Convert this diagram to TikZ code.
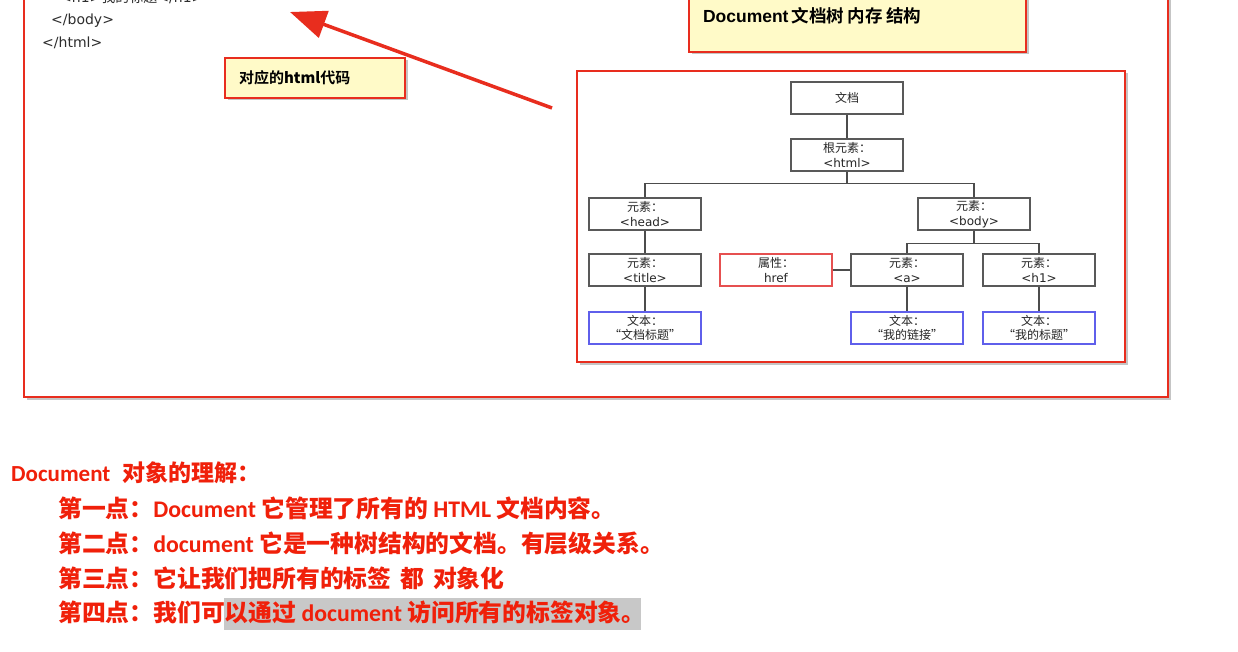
\documentclass[tikz,border=0pt]{standalone}
\usepackage{fontspec}
\setmainfont{DejaVu Sans}
\newfontfamily\cjk{Noto Sans CJK SC}
\newfontfamily\cjkb{Noto Sans CJK SC Bold}
\newfontfamily\calf{Carlito}
\newfontfamily\arf{Liberation Sans}
\usetikzlibrary{arrows.meta,shadows}
\definecolor{rd}{RGB}{232,45,30}
\definecolor{txtred}{RGB}{240,32,10}
\definecolor{yel}{RGB}{255,250,200}
\definecolor{blu}{RGB}{95,95,235}
\definecolor{hrefred}{RGB}{230,80,80}
\definecolor{hl}{RGB}{200,200,200}
\definecolor{codegray}{RGB}{45,45,45}
\newcommand\Ch[1]{{\cjkb #1}}
\tikzset{
  shd/.style={drop shadow={shadow xshift=2.5pt,shadow yshift=-2.5pt,fill=black!45,opacity=0.5}},
  redbox/.style={draw=rd,line width=2pt,fill=white,shd},
  ybox/.style={draw=rd,line width=2pt,fill=yel,shd,align=left,inner xsep=14pt,inner ysep=0pt},
  tbox/.style={draw=black!65,line width=1.1pt,fill=white,minimum width=112pt,minimum height=32pt,
    inner sep=0pt,align=center,text=black!85,font=\fontsize{12}{14.5}\selectfont},
  bbox/.style={tbox,draw=blu},
  abox/.style={tbox,draw=hrefred},
  conn/.style={draw=black!70,line width=1.1pt},
  codetxt/.style={anchor=west,inner sep=0pt,text=codegray,font=\fontsize{14}{16}\selectfont},
  pointtxt/.style={anchor=base west,inner sep=0pt,text=txtred,font=\fontsize{23.8}{26}\calf\bfseries},
}
\begin{document}
\begin{tikzpicture}[x=1pt,y=-1pt]
\useasboundingbox (0,0) rectangle (1238,652);
\fill[white] (0,0) rectangle (1238,652);
\clip (0,0) rectangle (1238,652);

% outer frame
\draw[redbox] (24,-20) rectangle (1168,397);

% code text
\node[codetxt] (c0) at (60,-3) {<h1>{\cjk 我的标题}</h1>};
\node[codetxt] (c1) at (51,21) {</body>};
\node[codetxt] (c2) at (42,43) {</html>};

% title box
\node[ybox,text width=309pt,minimum height=72pt] (title) at (857.5,16)
  {{\cjkb\fontsize{17.5}{20}\selectfont{\arf\bfseries Document} 文档树 内存 结构}};

% label box
\node[ybox,text width=152pt,minimum height=40pt] (lbl) at (315,78)
  {{\cjkb\fontsize{15}{18}\selectfont 对应的{\bfseries html}代码}};

% arrow
\coordinate (atail) at (552,108);
\coordinate (ahead) at (290,12);
\draw[draw=rd,line width=3.5pt,-{Triangle[length=36pt,width=28pt]}] (atail) -- (ahead);

% inner frame
\draw[redbox] (577,71) rectangle (1125,362);

% tree
\node[tbox] (doc) at (847,98) {{\cjk 文档}};
\node[tbox] (root) at (847,155) {{\cjk 根元素：}\\<html>};
\node[tbox] (head) at (645,214) {{\cjk 元素：}\\<head>};
\node[tbox] (body) at (974,214) {{\cjk 元素：}\\<body>};
\node[tbox] (title2) at (645,270) {{\cjk 元素：}\\<title>};
\node[abox] (href) at (776,270) {{\cjk 属性：}\\href};
\node[tbox] (a) at (907,270) {{\cjk 元素：}\\<a>};
\node[tbox] (h1) at (1039,270) {{\cjk 元素：}\\<h1>};
\node[bbox] (t1) at (645,328) {{\cjk 文本：}\\{\cjk “文档标题”}};
\node[bbox] (t2) at (907,328) {{\cjk 文本：}\\{\cjk “我的链接”}};
\node[bbox] (t3) at (1039,328) {{\cjk 文本：}\\{\cjk “我的标题”}};

\draw[conn] (doc) -- (root);
\draw[conn] (root.south) -- ++(0,12) -| (head.north);
\draw[conn] (root.south) ++(0,12) -| (body.north);
\draw[conn] (head) -- (title2);
\draw[conn] (title2) -- (t1);
\draw[conn] (body.south) -- ++(0,13) -| (a.north);
\draw[conn] (body.south) ++(0,13) -| (h1.north);
\draw[conn] (href) -- (a);
\draw[conn] (a) -- (t2);
\draw[conn] (h1) -- (t3);

% bottom text
\fill[hl] (224,598) rectangle (641,630);
\node[pointtxt,font=\fontsize{23}{26}\calf\bfseries] (hd) at (11,481) {Document\hspace{12pt}\Ch{对象的理解：}};
\node[pointtxt] (p1) at (58,517) {\Ch{第一点：}Document \Ch{它管理了所有的} HTML \Ch{文档内容。}};
\node[pointtxt] (p2) at (58,552) {\Ch{第二点：}document \Ch{它是一种树结构的文档。有层级关系。}};
\node[pointtxt] (p3) at (58,587) {\Ch{第三点：它让我们把所有的标签}\hspace{9pt}\Ch{都}\hspace{9pt}\Ch{对象化}};
\node[pointtxt] (p4) at (58,621) {\Ch{第四点：我们可以通过} document \Ch{访问所有的标签对象。}};
\end{tikzpicture}
\end{document}
